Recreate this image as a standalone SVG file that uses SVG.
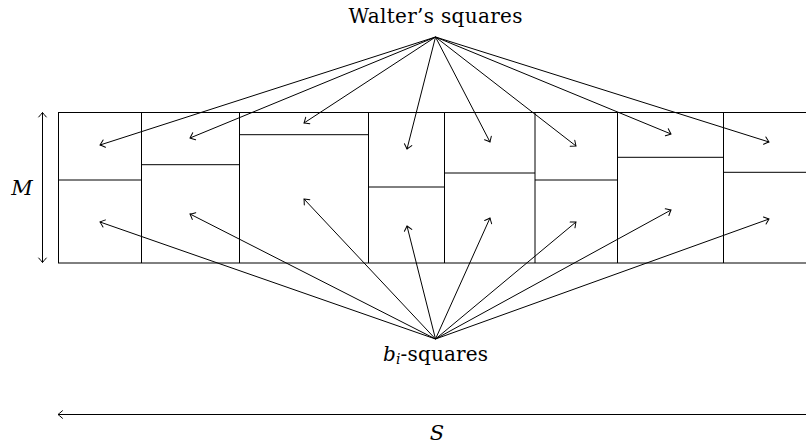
<svg xmlns="http://www.w3.org/2000/svg" width="806" height="444" viewBox="0 0 806 444">
<style>
  .ln { stroke: #000; stroke-width: 1; fill: none; }
  .ar { stroke: #000; stroke-width: 1; fill: none; marker-end: url(#to); }
  .lbl { font-family: "DejaVu Serif", serif; fill: #000; }
  .it { font-style: italic; }
</style>
<defs>
  <marker id="to" viewBox="-8 -5 10 10" refX="0" refY="0" markerWidth="10" markerHeight="10" markerUnits="userSpaceOnUse" orient="auto-start-reverse" overflow="visible">
    <path d="M -4.5 -3.8 Q -1.2 -0.9 0 0 Q -1.2 0.9 -4.5 3.8" stroke="#000" stroke-width="1" fill="none" stroke-linecap="round"/>
  </marker>
</defs>
<rect width="806" height="444" fill="#fff"/>

<g id="frame">
  <path class="ln" d="M58 112.5 H806 M58 263 H806"/>
  <path class="ln" d="M58.5 112.5 V263 M141.5 112.5 V263 M239.5 112.5 V263 M368.5 112.5 V263 M444.5 112.5 V263 M535 112.5 V263 M617.5 112.5 V263 M723.5 112.5 V263"/>
</g>

<g id="squares">
  <path class="ln" d="M58 180 H141.5"/>
  <path class="ln" d="M141.5 164.7 H239.5"/>
  <path class="ln" d="M239.5 134.7 H368.5"/>
  <path class="ln" d="M368.5 187 H444.5"/>
  <path class="ln" d="M444.5 173 H535"/>
  <path class="ln" d="M535 180 H617.5"/>
  <path class="ln" d="M617.5 157.3 H723.5"/>
  <path class="ln" d="M723.5 172.3 H806"/>
</g>

<g id="connectors">
  <path class="ar" d="M435.5 37 L100 145"/>
  <path class="ar" d="M435.5 37 L190 138"/>
  <path class="ar" d="M435.5 37 L304 123"/>
  <path class="ar" d="M435.5 37 L407 149"/>
  <path class="ar" d="M435.5 37 L490 142"/>
  <path class="ar" d="M435.5 37 L576 146"/>
  <path class="ar" d="M435.5 37 L671 134"/>
  <path class="ar" d="M435.5 37 L769 142"/>

  <path class="ar" d="M435.5 339 L100 222"/>
  <path class="ar" d="M435.5 339 L190 214"/>
  <path class="ar" d="M435.5 339 L304 199"/>
  <path class="ar" d="M435.5 339 L407 226"/>
  <path class="ar" d="M435.5 339 L490 218"/>
  <path class="ar" d="M435.5 339 L576 222"/>
  <path class="ar" d="M435.5 339 L671 210"/>
  <path class="ar" d="M435.5 339 L769 219"/>

  <path class="ar" d="M42.5 262.5 L42.5 112.5" style="marker-start:url(#to)"/>
  <path class="ar" d="M806 414.5 L58 414.5"/>
</g>

<g id="labels">
  <text class="lbl" x="435.5" y="22.5" font-size="20" text-anchor="middle" textLength="174" lengthAdjust="spacing">Walter’s squares</text>
  <text class="lbl" x="435.5" y="361" font-size="20" text-anchor="middle" textLength="105" lengthAdjust="spacing"><tspan class="it">b</tspan><tspan class="it" font-size="14" dy="3">i</tspan><tspan dy="-3">-squares</tspan></text>
  <text class="lbl it" x="22" y="195" font-size="21" text-anchor="middle">M</text>
  <text class="lbl it" x="437" y="440" font-size="21" text-anchor="middle">S</text>
</g>
</svg>
